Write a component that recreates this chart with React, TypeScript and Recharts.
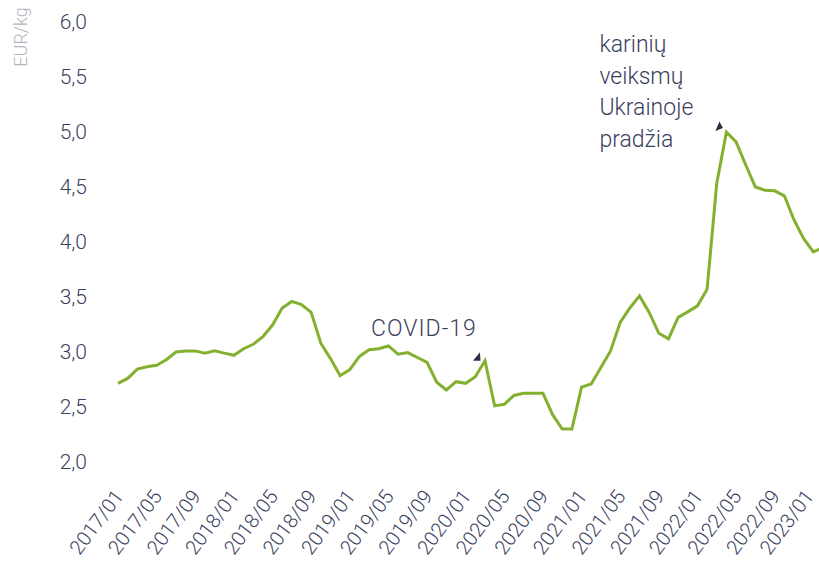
import React from 'react';
import { LineChart, Line, XAxis, YAxis, ReferenceDot, Customized } from 'recharts';

const months: string[] = [
  '2017/01','2017/02','2017/03','2017/04','2017/05','2017/06','2017/07','2017/08','2017/09','2017/10','2017/11','2017/12',
  '2018/01','2018/02','2018/03','2018/04','2018/05','2018/06','2018/07','2018/08','2018/09','2018/10','2018/11','2018/12',
  '2019/01','2019/02','2019/03','2019/04','2019/05','2019/06','2019/07','2019/08','2019/09','2019/10','2019/11','2019/12',
  '2020/01','2020/02','2020/03','2020/04','2020/05','2020/06','2020/07','2020/08','2020/09','2020/10','2020/11','2020/12',
  '2021/01','2021/02','2021/03','2021/04','2021/05','2021/06','2021/07','2021/08','2021/09','2021/10','2021/11','2021/12',
  '2022/01','2022/02','2022/03','2022/04','2022/05','2022/06','2022/07','2022/08','2022/09','2022/10','2022/11','2022/12',
  '2023/01','2023/02',
];

const prices: number[] = [
  2.715, 2.76, 2.845, 2.866, 2.88, 2.93, 3.0, 3.01, 3.01, 2.99, 3.01, 2.99,
  2.97, 3.03, 3.07, 3.14, 3.245, 3.4, 3.46, 3.43, 3.36, 3.08, 2.94, 2.785,
  2.84, 2.96, 3.02, 3.03, 3.055, 2.98, 2.995, 2.95, 2.905, 2.725, 2.655, 2.73,
  2.715, 2.775, 2.92, 2.51, 2.525, 2.605, 2.625, 2.625, 2.625, 2.43, 2.3, 2.3,
  2.68, 2.71, 2.86, 3.01, 3.27, 3.4, 3.51, 3.36, 3.17, 3.12, 3.315, 3.365,
  3.42, 3.57, 4.535, 5.0, 4.91, 4.7, 4.5, 4.47, 4.465, 4.42, 4.2, 4.03,
  3.91, 3.95,
];

const yTicks: number[] = [2, 2.5, 3, 3.5, 4, 4.5, 5, 5.5, 6];
const xTickLabels: string[] = months.filter((_, i) => i % 4 === 0);

const axisTitle = 'EUR/kg';
const covidLabel = 'COVID-19';
const covidMonth = '2020/03';
const warLines: string[] = ['karinių', 'veiksmų', 'Ukrainoje', 'pradžia'];
const warMonth = '2022/04';

const data = months.map((m, i) => ({ month: m, price: prices[i] }));

const FONT = 'Roboto, "Liberation Sans", Arial, sans-serif';
const TEXT = '#3b3f5e';
const GREEN = '#83b02f';

const XTick = (props: any) => {
  const { x, y, payload } = props;
  const isLast = payload.value === xTickLabels[xTickLabels.length - 1];
  const tx = x + (isLast ? -10 : -5);
  return (
    <text
      x={tx}
      y={y}
      transform={`rotate(-53, ${tx}, ${y})`}
      textAnchor="end"
      fill={TEXT}
      fontSize={20}
      fontFamily={FONT}
      fontWeight={300}
    >
      <tspan x={tx} dy="0.71em">{payload.value}</tspan>
    </text>
  );
};

const CovidShape = (props: any) => {
  const { cx, cy } = props;
  return (
    <g>
      <polygon points={`${cx - 12},${cy} ${cx - 5},${cy - 8.5} ${cx - 4.5},${cy}`} fill="#2b2f4a" />
      <text x={cx - 114} y={cy - 25} fill={TEXT} fontSize={23} fontFamily={FONT} fontWeight={300} letterSpacing={1}>
        {covidLabel}
      </text>
    </g>
  );
};

const WarShape = (props: any) => {
  const { cx, cy } = props;
  return (
    <g>
      <polygon points={`${cx - 11},${cy - 1} ${cx - 7},${cy - 10.5} ${cx - 3.5},${cy - 4}`} fill="#2b2f4a" />
      {warLines.map((t, i) => (
        <text key={t} x={cx - 127} y={cy - 80 + i * 31.5} fill={TEXT} fontSize={23} fontFamily={FONT} fontWeight={300}>
          {t}
        </text>
      ))}
    </g>
  );
};

const Title = () => (
  <text
    x={27}
    y={37}
    transform="rotate(-90, 27, 37)"
    textAnchor="middle"
    fill="#b3b6bd"
    fontSize={18}
    fontFamily={FONT}
    fontWeight={300}
  >
    {axisTitle}
  </text>
);

export default function App() {
  return (
    <div style={{ position: 'fixed', left: 0, top: 0, width: 819, height: 562, overflow: 'hidden', background: '#fff' }}>
      <LineChart width={840} height={562} data={data} margin={{ top: 22, right: 17, left: 0, bottom: 0 }}>
        <XAxis
          dataKey="month"
          ticks={xTickLabels}
          interval={0}
          axisLine={false}
          tickLine={false}
          height={100}
          tickMargin={20}
          tick={XTick}
        />
        <YAxis
          domain={[2, 6]}
          ticks={yTicks}
          width={118}
          axisLine={false}
          tickLine={false}
          tickMargin={25}
          tickFormatter={(v: number) => v.toFixed(1).replace('.', ',')}
          tick={{ fill: TEXT, fontSize: 21, fontFamily: FONT, fontWeight: 300 }}
        />
        <Line
          type="linear"
          dataKey="price"
          stroke={GREEN}
          strokeWidth={3}
          dot={false}
          isAnimationActive={false}
        />
        <ReferenceDot x={covidMonth} y={prices[months.indexOf(covidMonth)]} shape={CovidShape} ifOverflow="visible" />
        <ReferenceDot x={warMonth} y={prices[months.indexOf(warMonth)]} shape={WarShape} ifOverflow="visible" />
        <Customized component={Title} />
      </LineChart>
    </div>
  );
}
